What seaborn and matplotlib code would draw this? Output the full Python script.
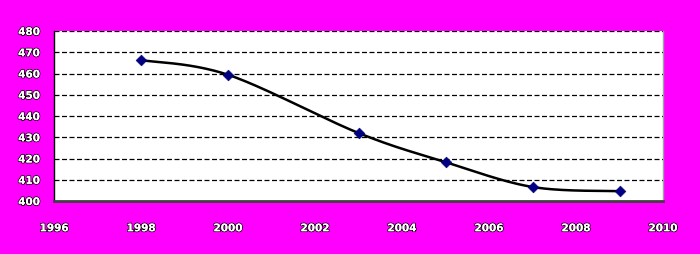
import numpy as np
import pandas as pd
import matplotlib
matplotlib.use("Agg")
import matplotlib.pyplot as plt
import matplotlib.patheffects as pe
import seaborn as sns

years = [1998, 2000, 2003, 2005, 2007, 2009]
values = [466.3, 459.4, 432.0, 418.3, 406.6, 404.6]
x_ticks = [1996, 1998, 2000, 2002, 2004, 2006, 2008, 2010]
y_ticks = [400, 410, 420, 430, 440, 450, 460, 470, 480]

df = pd.DataFrame({"year": years, "value": values})


def excel_smooth(x, y, n=40):
    x = np.asarray(x, float)
    y = np.asarray(y, float)
    xs, ys = [], []
    m = len(x)
    for i in range(m - 1):
        p0 = np.array([x[max(i - 1, 0)], y[max(i - 1, 0)]])
        p1 = np.array([x[i], y[i]])
        p2 = np.array([x[i + 1], y[i + 1]])
        p3 = np.array([x[min(i + 2, m - 1)], y[min(i + 2, m - 1)]])
        c1 = p1 + (p2 - p0) / 6.0
        c2 = p2 - (p3 - p1) / 6.0
        t = np.linspace(0, 1, n)[:, None]
        b = ((1 - t) ** 3) * p1 + 3 * ((1 - t) ** 2) * t * c1 + 3 * (1 - t) * t ** 2 * c2 + t ** 3 * p2
        xs.extend(b[:, 0])
        ys.extend(b[:, 1])
    return np.array(xs), np.array(ys)


sns.set_style("white")
plt.rcParams["font.family"] = ["DejaVu Sans"]

fig = plt.figure(figsize=(7.0, 2.54), dpi=100, facecolor="#FF00FF")
ax = fig.add_axes([54 / 700, 53 / 254, 609 / 700, 170 / 254])
ax.set_facecolor("white")

for yv in y_ticks[1:]:
    ax.axhline(yv, color="black", lw=0.9, ls=(0, (4, 2)), zorder=1)

sx, sy = excel_smooth(years, values)
smooth = pd.DataFrame({"year": sx, "value": sy})
sns.lineplot(data=smooth, x="year", y="value", ax=ax, color="black", lw=1.8,
             sort=False, estimator=None, zorder=2)
sns.scatterplot(data=df, x="year", y="value", ax=ax, marker="D", s=30,
                color="#000080", edgecolor="#000080", zorder=3)

ax.set_xlim(1996, 2010)
ax.set_ylim(400, 480)
ax.set_xticks(x_ticks)
ax.set_yticks(y_ticks)
ax.set_xlabel("")
ax.set_ylabel("")

shadow = [pe.withSimplePatchShadow(offset=(0.8, -0.8), shadow_rgbFace="black", alpha=1.0), pe.Normal()]
ax.set_xticklabels([str(t) for t in x_ticks])
ax.set_yticklabels([str(t) for t in y_ticks])
for lab in ax.get_xticklabels() + ax.get_yticklabels():
    lab.set_color("white")
    lab.set_fontsize(7.5)
    lab.set_fontweight("bold")
    lab.set_path_effects([pe.withStroke(linewidth=1.2, foreground="black"), pe.Normal()])

ax.tick_params(axis="x", direction="out", length=4, width=1, color="black", pad=12)
ax.tick_params(axis="y", direction="out", length=4, width=1, color="black", pad=6)

for s in ["top"]:
    ax.spines[s].set_visible(False)
ax.spines["left"].set_color("black")
ax.spines["left"].set_linewidth(1)
ax.spines["bottom"].set_color("#404040")
ax.spines["bottom"].set_linewidth(2)
ax.spines["right"].set_color("#A0A0A0")
ax.spines["right"].set_linewidth(1)

fig.savefig("out.png", dpi=100, facecolor=fig.get_facecolor())
